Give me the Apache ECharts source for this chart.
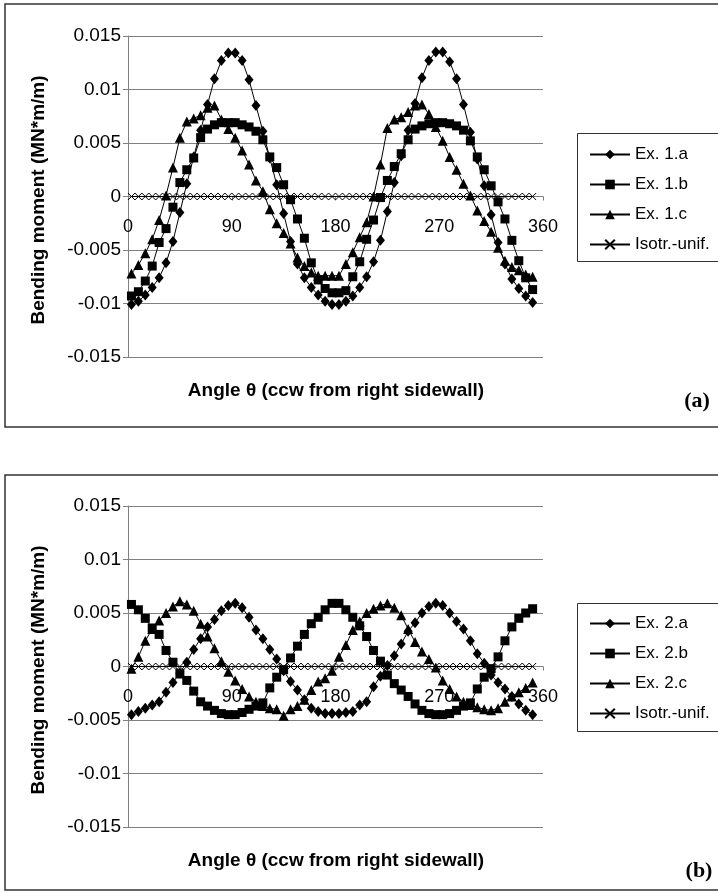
<!DOCTYPE html>
<html><head><meta charset="utf-8">
<script src="https://cdn.jsdelivr.net/npm/echarts@6/dist/echarts.min.js"></script>
<style>html,body{margin:0;padding:0;background:#fff}#c{width:718px;height:894px}</style>
</head><body><div id="c"></div><script>
// angles (degrees, ccw from right sidewall)
const angles = [
  3, 9, 15, 21, 27, 33, 39, 45, 51, 57,
  63, 69, 75, 81, 87, 93, 99, 105, 111, 117,
  123, 129, 135, 141, 147, 153, 159, 165, 171, 177,
  183, 189, 195, 201, 207, 213, 219, 225, 231, 237,
  243, 249, 255, 261, 267, 273, 279, 285, 291, 297,
  303, 309, 315, 321, 327, 333, 339, 345, 351
];
const xTicks = [0, 90, 180, 270, 360];
const yTicks = [-0.015, -0.01, -0.005, 0, 0.005, 0.01, 0.015];

// Panel (a)
const ex1a = [
  -0.0101, -0.0098, -0.0092, -0.0085, -0.0076, -0.0062, -0.0042, -0.0015, 0.0012, 0.0037,
  0.0062, 0.0086, 0.0110, 0.0127, 0.0134, 0.0134, 0.0127, 0.0109, 0.0085, 0.0061,
  0.0036, 0.0011, -0.0016, -0.0042, -0.0063, -0.0076, -0.0085, -0.0092, -0.0098, -0.0101,
  -0.0101, -0.0098, -0.0093, -0.0085, -0.0075, -0.0061, -0.0041, -0.0014, 0.0013, 0.0038,
  0.0062, 0.0087, 0.0111, 0.0127, 0.0135, 0.0135, 0.0126, 0.0110, 0.0086, 0.0060,
  0.0035, 0.0010, -0.0017, -0.0043, -0.0063, -0.0077, -0.0086, -0.0093, -0.0099
];
const ex1b = [
  -0.0093, -0.0089, -0.0079, -0.0065, -0.0043, -0.0030, -0.0010, 0.0013, 0.0025, 0.0036,
  0.0055, 0.0063, 0.0067, 0.0069, 0.0069, 0.0069, 0.0067, 0.0065, 0.0061, 0.0053,
  0.0037, 0.0027, 0.0011, -0.0003, -0.0021, -0.0039, -0.0062, -0.0078, -0.0086, -0.0090,
  -0.0090, -0.0088, -0.0075, -0.0061, -0.0040, -0.0022, -0.0001, 0.0015, 0.0028, 0.0040,
  0.0053, 0.0063, 0.0066, 0.0068, 0.0069, 0.0069, 0.0068, 0.0066, 0.0062, 0.0052,
  0.0037, 0.0025, 0.0010, -0.0005, -0.0021, -0.0041, -0.0060, -0.0076, -0.0087
];
const ex1c = [
  -0.0072, -0.0064, -0.0053, -0.0040, -0.0022, 0.0001, 0.0027, 0.0055, 0.0070, 0.0073,
  0.0076, 0.0083, 0.0085, 0.0072, 0.0063, 0.0055, 0.0043, 0.0030, 0.0015, 0.0005,
  -0.0012, -0.0025, -0.0034, -0.0044, -0.0057, -0.0065, -0.0071, -0.0074, -0.0074, -0.0074,
  -0.0074, -0.0063, -0.0052, -0.0038, -0.0024, 0.0000, 0.0030, 0.0064, 0.0072, 0.0074,
  0.0079, 0.0085, 0.0086, 0.0077, 0.0065, 0.0052, 0.0037, 0.0025, 0.0012, 0.0001,
  -0.0013, -0.0023, -0.0033, -0.0048, -0.0060, -0.0066, -0.0069, -0.0073, -0.0075
];
const isoA = [
  0, 0, 0, 0, 0, 0, 0, 0, 0, 0,
  0, 0, 0, 0, 0, 0, 0, 0, 0, 0,
  0, 0, 0, 0, 0, 0, 0, 0, 0, 0,
  0, 0, 0, 0, 0, 0, 0, 0, 0, 0,
  0, 0, 0, 0, 0, 0, 0, 0, 0, 0,
  0, 0, 0, 0, 0, 0, 0, 0, 0
];

// Panel (b)
const ex2a = [
  -0.0045, -0.0042, -0.0039, -0.0036, -0.0033, -0.0024, -0.0015, -0.0006, 0.0004, 0.0016,
  0.0026, 0.0037, 0.0044, 0.0052, 0.0057, 0.0059, 0.0055, 0.0046, 0.0034, 0.0026,
  0.0016, 0.0007, -0.0004, -0.0014, -0.0022, -0.0031, -0.0039, -0.0042, -0.0044, -0.0044,
  -0.0044, -0.0043, -0.0042, -0.0036, -0.0033, -0.0019, -0.0009, 0.0001, 0.0010, 0.0021,
  0.0033, 0.0041, 0.0050, 0.0056, 0.0059, 0.0057, 0.0050, 0.0042, 0.0035, 0.0024,
  0.0012, 0.0003, -0.0008, -0.0015, -0.0021, -0.0028, -0.0035, -0.0041, -0.0045
];
const ex2b = [
  0.0058, 0.0053, 0.0045, 0.0036, 0.0030, 0.0015, 0.0004, -0.0007, -0.0013, -0.0023,
  -0.0033, -0.0037, -0.0041, -0.0044, -0.0045, -0.0045, -0.0043, -0.0040, -0.0037, -0.0034,
  -0.0020, -0.0010, -0.0003, 0.0008, 0.0019, 0.0030, 0.0040, 0.0046, 0.0053, 0.0059,
  0.0059, 0.0053, 0.0046, 0.0038, 0.0028, 0.0015, 0.0005, -0.0008, -0.0016, -0.0022,
  -0.0028, -0.0035, -0.0041, -0.0044, -0.0045, -0.0045, -0.0044, -0.0041, -0.0037, -0.0034,
  -0.0021, -0.0010, -0.0002, 0.0009, 0.0024, 0.0037, 0.0045, 0.0050, 0.0054
];
const ex2c = [
  -0.0002, 0.0009, 0.0024, 0.0035, 0.0043, 0.0050, 0.0056, 0.0061, 0.0058, 0.0052,
  0.0040, 0.0028, 0.0017, 0.0005, -0.0005, -0.0013, -0.0021, -0.0028, -0.0033, -0.0037,
  -0.0039, -0.0040, -0.0046, -0.0040, -0.0037, -0.0031, -0.0022, -0.0014, -0.0011, -0.0004,
  0.0009, 0.0020, 0.0034, 0.0042, 0.0050, 0.0054, 0.0057, 0.0059, 0.0055, 0.0048,
  0.0035, 0.0023, 0.0014, 0.0007, -0.0001, -0.0013, -0.0021, -0.0028, -0.0033, -0.0036,
  -0.0038, -0.0040, -0.0041, -0.0039, -0.0033, -0.0028, -0.0024, -0.0020, -0.0015
];
const isoB = [
  0, 0, 0, 0, 0, 0, 0, 0, 0, 0,
  0, 0, 0, 0, 0, 0, 0, 0, 0, 0,
  0, 0, 0, 0, 0, 0, 0, 0, 0, 0,
  0, 0, 0, 0, 0, 0, 0, 0, 0, 0,
  0, 0, 0, 0, 0, 0, 0, 0, 0, 0,
  0, 0, 0, 0, 0, 0, 0, 0, 0
];

const namesA = ['Ex. 1.a', 'Ex. 1.b', 'Ex. 1.c', 'Isotr.-unif.'];
const namesB = ['Ex. 2.a', 'Ex. 2.b', 'Ex. 2.c', 'Isotr.-unif.'];
const xTitle = 'Angle \u03b8 (ccw from right sidewall)';
const yTitle = 'Bending moment (MN*m/m)';

const FONT = '"Liberation Sans", Arial, sans-serif';
const GRAY = '#808080';
const CROSS = 'path://M0,0L10,10M0,10L10,0';
const GRID_H = 321;

function pair(ys) { return angles.map((a, i) => [a, ys[i]]); }

function xAxisDef(idx) {
  return {
    gridIndex: idx, type: 'value', min: xTicks[0], max: xTicks[xTicks.length - 1], interval: 90,
    position: 'bottom', offset: -GRID_H / 2,
    axisLine: { show: true, onZero: false, lineStyle: { color: GRAY, width: 1 } },
    axisTick: { show: true, length: 4, lineStyle: { color: GRAY } },
    splitLine: { show: false },
    axisLabel: { fontSize: 18, color: '#000', fontFamily: FONT, margin: 22 }
  };
}
function yAxisDef(idx) {
  return {
    gridIndex: idx, type: 'value', min: yTicks[0], max: yTicks[yTicks.length - 1], interval: 0.005,
    axisLine: { show: true, onZero: false, lineStyle: { color: GRAY, width: 1 } },
    axisTick: { show: true, length: 5, lineStyle: { color: GRAY } },
    splitLine: { show: true, lineStyle: { color: GRAY, width: 1 } },
    axisLabel: { fontSize: 19, color: '#000', fontFamily: FONT, margin: 7,
      formatter: v => String(+(+v).toFixed(3)) }
  };
}
function lineSeries(name, ys, idx, symbol, size, isCross) {
  return {
    name: name, type: 'line', xAxisIndex: idx, yAxisIndex: idx,
    data: pair(ys), symbol: symbol, symbolSize: size, showSymbol: true,
    color: '#000',
    lineStyle: { color: '#000', width: 1 },
    itemStyle: isCross ? { color: '#000', borderColor: '#000', borderWidth: 1 }
                       : { color: '#000', borderWidth: 0 },
    z: isCross ? 3 : 2
  };
}

const chart = echarts.init(document.getElementById('c'), null, { renderer: 'canvas' });
const titleStyle = { fontSize: 19, fontWeight: 'bold', fontFamily: FONT, fill: '#000' };

chart.setOption({
  animation: false,
  backgroundColor: '#fff',
  grid: [
    { left: 128, top: 36, width: 415, height: GRID_H },
    { left: 128, top: 506, width: 415, height: GRID_H }
  ],
  xAxis: [xAxisDef(0), xAxisDef(1)],
  yAxis: [yAxisDef(0), yAxisDef(1)],
  legend: [
    { data: namesA, orient: 'vertical', left: 584, top: 141, itemWidth: 40, itemHeight: 12, itemGap: 13,
      textStyle: { fontSize: 17, fontFamily: FONT, color: '#000', lineHeight: 14 }, selectedMode: false },
    { data: namesB, orient: 'vertical', left: 584, top: 610, itemWidth: 40, itemHeight: 12, itemGap: 13,
      textStyle: { fontSize: 17, fontFamily: FONT, color: '#000', lineHeight: 14 }, selectedMode: false }
  ],
  series: [
    lineSeries(namesA[0], ex1a, 0, 'diamond', [9, 11]),
    lineSeries(namesA[1], ex1b, 0, 'rect', 9),
    lineSeries(namesA[2], ex1c, 0, 'triangle', 10),
    lineSeries(namesA[3], isoA, 0, CROSS, 7, true),
    lineSeries(namesB[0], ex2a, 1, 'diamond', [9, 11]),
    lineSeries(namesB[1], ex2b, 1, 'rect', 9),
    lineSeries(namesB[2], ex2c, 1, 'triangle', 10),
    lineSeries(namesB[3], isoB, 1, CROSS, 7, true)
  ],
  graphic: [
    { type: 'rect', shape: { x: 5, y: 4, width: 720, height: 423 }, style: { fill: 'none', stroke: '#333', lineWidth: 1.5 }, silent: true },
    { type: 'rect', shape: { x: 5, y: 475, width: 720, height: 415 }, style: { fill: 'none', stroke: '#333', lineWidth: 1.5 }, silent: true },
    { type: 'rect', shape: { x: 577.5, y: 133.5, width: 150, height: 128 }, style: { fill: 'none', stroke: '#333', lineWidth: 1 }, silent: true },
    { type: 'rect', shape: { x: 577.5, y: 603.5, width: 150, height: 128 }, style: { fill: 'none', stroke: '#333', lineWidth: 1 }, silent: true },
    { type: 'text', x: 336, y: 391, style: Object.assign({ text: xTitle, align: 'center', verticalAlign: 'middle' }, titleStyle) },
    { type: 'text', x: 336, y: 861, style: Object.assign({ text: xTitle, align: 'center', verticalAlign: 'middle' }, titleStyle) },
    { type: 'text', x: 39, y: 200, rotation: Math.PI / 2, style: Object.assign({ text: yTitle, align: 'center', verticalAlign: 'middle' }, titleStyle) },
    { type: 'text', x: 39, y: 670, rotation: Math.PI / 2, style: Object.assign({ text: yTitle, align: 'center', verticalAlign: 'middle' }, titleStyle) },
    { type: 'text', x: 697, y: 401, style: { text: '(a)', align: 'center', verticalAlign: 'middle', fontSize: 22, fontWeight: 'bold', fontFamily: '"Liberation Serif", "DejaVu Serif", serif', fill: '#000' } },
    { type: 'text', x: 699, y: 871, style: { text: '(b)', align: 'center', verticalAlign: 'middle', fontSize: 22, fontWeight: 'bold', fontFamily: '"Liberation Serif", "DejaVu Serif", serif', fill: '#000' } }
  ]
});
</script></body></html>
